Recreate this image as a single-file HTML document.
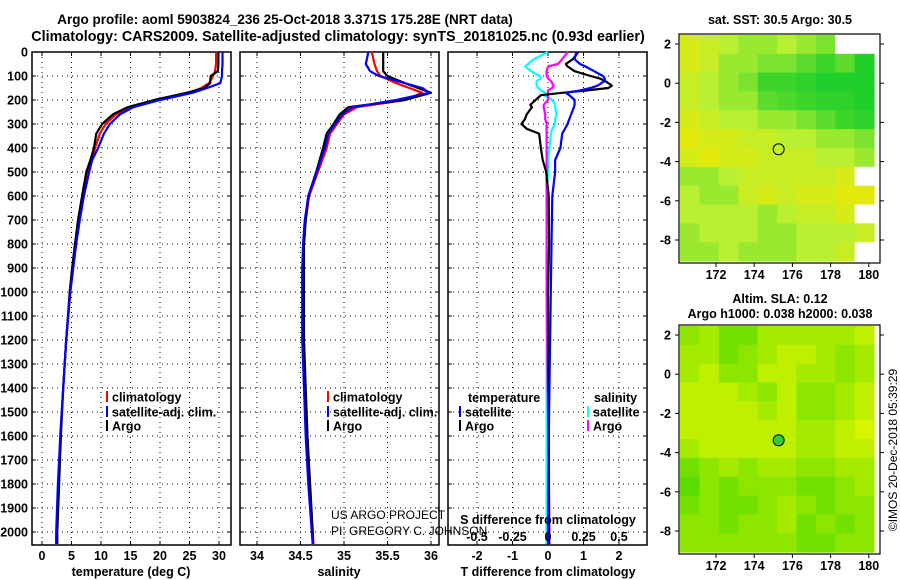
<!DOCTYPE html>
<html><head><meta charset="utf-8"><style>
html,body{margin:0;padding:0;background:#fff;}
svg{display:block;font-family:"Liberation Sans",sans-serif;}
.b{font-weight:bold;font-size:12.5px;}
.n{font-weight:normal;font-size:12px;}
</style></head><body>
<svg id="fig" width="900" height="580" viewBox="0 0 900 580"></svg>
<script>
// ---------- data ----------
const tDepth=[0,50,80,100,130,150,170,200,230,260,300,340,400,450,500,600,700,800,900,1000,1200,1400,1600,1800,2000,2050];
const tClim=[29.5,29.5,29.3,29.0,28.3,27.0,25.0,19.5,15.0,12.5,10.8,9.8,9.0,8.3,7.8,7.0,6.3,5.7,5.2,4.8,4.1,3.6,3.1,2.8,2.5,2.4];
const tSat =[30.6,30.6,30.5,30.5,30.2,28.0,25.5,20.0,15.5,13.2,11.5,10.5,9.5,8.5,8.0,7.1,6.4,5.8,5.3,4.8,4.1,3.6,3.1,2.7,2.4,2.4];
const tArgo=[29.9,29.9,29.8,28.6,28.5,27.5,24.5,19.0,14.5,12.0,10.2,9.2,8.8,8.2,7.5,6.8,6.1,5.6,5.1,4.7,4.1,3.6,3.2,2.9,2.6,2.6];
const sClim=[35.32,35.35,35.38,35.42,35.6,35.75,35.9,35.7,35.15,35.0,34.92,34.84,34.8,34.75,34.7,34.6,34.56,34.54,34.53,34.53,34.53,34.55,34.57,34.6,34.64,34.65];
const sSat =[35.28,35.25,35.30,35.40,35.7,35.9,35.98,35.6,35.1,34.98,34.9,34.82,34.78,34.73,34.69,34.59,34.55,34.53,34.52,34.52,34.52,34.54,34.56,34.59,34.63,34.64];
const sArgo=[35.45,35.45,35.45,35.50,35.7,35.85,36.0,35.7,35.05,34.95,34.88,34.8,34.76,34.72,34.68,34.59,34.56,34.54,34.54,34.54,34.54,34.56,34.58,34.61,34.64,34.64];
const dDepth=[0,30,50,60,80,100,110,120,140,150,160,170,180,200,220,230,260,280,300,320,340,400,450,500,600,800,1000,1500,2000,2050];
const dTsat =[0.8,0.75,0.9,1.05,1.3,1.55,1.6,1.6,1.4,1.2,0.9,0.5,0.6,0.75,0.75,0.73,0.65,0.6,0.55,0.48,0.4,0.35,0.2,0.2,0.12,0.1,0.08,0.03,0.0,0.0];
const dTargo=[0.85,0.7,0.5,0.55,0.75,1.2,1.45,1.6,1.8,1.7,1.1,0.4,-0.2,-0.35,-0.5,-0.45,-0.6,-0.65,-0.75,-0.6,-0.25,-0.2,-0.15,-0.05,0.02,0.03,0.0,0.02,0.03,0.03];
const dSsat =[0.0,-0.1,-0.14,-0.16,-0.12,-0.06,-0.05,-0.08,-0.08,-0.07,-0.05,-0.02,-0.03,0.03,0.05,0.05,0.06,0.05,0.05,0.03,0.02,0.01,0.0,0.0,-0.01,-0.01,-0.01,-0.01,-0.01,-0.01];
const dSargo=[0.14,0.1,0.07,0.0,-0.01,-0.01,0.0,0.02,0.04,0.03,0.0,0.0,0.0,0.0,-0.03,-0.03,-0.02,-0.02,-0.01,-0.01,-0.01,-0.01,-0.01,-0.01,-0.01,-0.01,-0.01,0.0,0.01,0.01];
const depthTicks=[0,100,200,300,400,500,600,700,800,900,1000,1100,1200,1300,1400,1500,1600,1700,1800,1900,2000];
const tTicks=[0,5,10,15,20,25,30];
const sTicks=[34,34.5,35,35.5,36];
const dtTicks=[-2,-1,0,1,2];
const dsTicks=[-0.5,-0.25,0,0.25,0.5];
const latTicks=[2,0,-2,-4,-6,-8];
const lonTicks=[172,174,176,178,180];
const sstGrid=[
[0.2,0.3,0.4,0.5,0.5,0.4,0.5,0.6,-1,-1],
[0.2,0.3,0.5,0.5,0.6,0.6,0.7,0.8,0.7,0.9],
[0.3,0.4,0.5,0.6,0.8,0.8,0.85,0.9,0.9,0.9],
[0.3,0.4,0.5,0.5,0.7,0.75,0.8,0.85,0.85,0.9],
[0.2,0.3,0.4,0.4,0.5,0.5,0.6,0.7,0.8,0.85],
[0.1,0.2,0.2,0.3,0.3,0.4,0.4,0.5,0.5,0.6],
[0.2,0.1,0.2,0.2,0.3,0.3,0.3,0.4,0.4,0.5],
[0.5,0.5,0.4,0.3,0.3,0.3,0.3,0.3,0.2,-1],
[0.4,0.5,0.5,0.3,0.2,0.3,0.2,0.2,0.1,0.1],
[0.4,0.4,0.4,0.4,0.5,0.4,0.3,0.3,0.2,-1],
[0.5,0.4,0.4,0.4,0.5,0.5,0.4,0.4,0.4,0.3],
[0.5,0.5,0.4,0.5,0.5,0.5,0.4,0.4,0.3,-1]];
const slaGrid=[
[.5,.4,.6,.6,.4,.4,.4,.4,.4,.3],
[.4,.4,.6,.5,.4,.3,.3,.4,.5,.4],
[.4,.3,.5,.5,.3,.3,.4,.4,.5,.4],
[.3,.3,.3,.4,.5,.3,.5,.5,.4,.3],
[.3,.3,.3,.3,.4,.3,.5,.5,.4,.3],
[.3,.3,.3,.3,.3,.3,.4,.4,.3,.2],
[.4,.3,.3,.3,.3,.3,.4,.4,.3,.3],
[.6,.5,.4,.5,.4,.4,.5,.5,.4,.4],
[.7,.5,.6,.5,.5,.5,.6,.6,.5,.4],
[.6,.5,.6,.6,.5,.4,.5,.6,.5,.5],
[.5,.5,.6,.5,.5,.4,.6,.5,.6,.5],
[.5,.5,.5,.5,.5,.5,.6,.6,.5,.5]];
const floatLon=175.28, floatLat=-3.371;

// ---------- helpers ----------
const svg=document.getElementById('fig');
const NS='http://www.w3.org/2000/svg';
function el(tag,attrs,parent){const e=document.createElementNS(NS,tag);for(const k in attrs)e.setAttribute(k,attrs[k]);(parent||svg).appendChild(e);return e;}
function txt(x,y,s,anchor,cls,parent){const t=el('text',{x:x,y:y,'text-anchor':anchor||'start','class':cls||'b'},parent);t.textContent=s;return t;}
const PT=52,PB=545;
const yD=d=>PT+d*0.24;

function panel(x0,x1,name,xfun,ticks,fmt,labelY){
  const g=el('g',{});
  
  
  ticks.forEach(v=>{const x=xfun(v);el('line',{x1:x,x2:x,y1:PT,y2:PB,stroke:'#000','stroke-width':1,'stroke-dasharray':'1,4'},g);
    el('line',{x1:x,x2:x,y1:PB,y2:PB-4,stroke:'#000'},g);el('line',{x1:x,x2:x,y1:PT,y2:PT+4,stroke:'#000'},g);
    const t=txt(x,labelY,fmt(v),'middle','b',g);});
  depthTicks.forEach(d=>{const y=yD(d);el('line',{x1:x0,x2:x1,y1:y,y2:y,stroke:'#000','stroke-dasharray':'1,4'},g);
    el('line',{x1:x0,x2:x0+4,y1:y,y2:y,stroke:'#000'},g);el('line',{x1:x1-4,x2:x1,y1:y,y2:y,stroke:'#000'},g);});
  el('rect',{x:x0,y:PT,width:x1-x0,height:PB-PT,fill:'none',stroke:'#000','stroke-width':1.5},g);
  return g;
}
function series(xs,ds,xfun,color,name,parent){
  const pts=xs.map((v,i)=>xfun(v).toFixed(1)+','+yD(ds[i]).toFixed(1)).join(' ');
  const p=el('polyline',{points:pts,fill:'none',stroke:color,'stroke-width':2.2,'stroke-linejoin':'round'},parent);
  
  
}
function legend(x,y,color,label,parent){
  el('rect',{x:x,y:y-6,width:2,height:11,fill:color},parent);
  const t=txt(x+6,y+4.5,label,'start','b',parent);
  
  
}

// titles
let t1=txt(285,24,'Argo profile: aoml 5903824_236 25-Oct-2018 3.371S 175.28E (NRT data)','middle');

t1.setAttribute('style','font-size:13.5px');
let t2=txt(338,41,'Climatology: CARS2009. Satellite-adjusted climatology: synTS_20181025.nc (0.93d earlier)','middle');

t2.setAttribute('style','font-size:14.3px');

depthTicks.forEach(d=>{const t=txt(28,yD(d)+4.5,String(d),'end');
  });

// panel 1 temperature
const xT=v=>42+v*5.9;
const g1=panel(32,231,'temperature-panel',xT,tTicks,v=>String(v),560);
series(tClim,tDepth,xT,'#f00','climatology-temp-line',g1);
series(tArgo,tDepth,xT,'#000','argo-temp-line',g1);
series(tSat,tDepth,xT,'#00f','satellite-temp-line',g1);
legend(106,397,'#f00','climatology',g1);legend(106,412,'#00f','satellite-adj. clim.',g1);legend(106,426,'#000','Argo',g1);
let xl=txt(131,576,'temperature (deg C)','middle','b',g1);

// panel 2 salinity
const xS=v=>257+(v-34)*87;
const g2=panel(240,439,'salinity-panel',xS,sTicks,v=>String(v),560);
series(sClim,tDepth,xS,'#f00','climatology-salinity-line',g2);
series(sArgo,tDepth,xS,'#000','argo-salinity-line',g2);
series(sSat,tDepth,xS,'#00f','satellite-salinity-line',g2);
legend(327,397,'#f00','climatology',g2);legend(327,412,'#00f','satellite-adj. clim.',g2);legend(327,426,'#000','Argo',g2);
xl=txt(339,576,'salinity','middle','b',g2);

// panel 3 differences
const xDT=v=>548+v*35.5;
const xDS=v=>548+v*142;
const g3=panel(448,647,'difference-panel',xDT,dtTicks,v=>String(v),560);
series(dSsat,dDepth,xDS,'#0ff','salinity-satellite-diff-line',g3);
series(dSargo,dDepth,xDS,'#f0f','salinity-argo-diff-line',g3);
series(dTargo,dDepth,xDT,'#000','temperature-argo-diff-line',g3);
series(dTsat,dDepth,xDT,'#00f','temperature-satellite-diff-line',g3);
txt(468,402,'temperature','start','b',g3);
txt(594,402,'salinity','start','b',g3);
legend(459,412,'#00f','satellite',g3);legend(459,426,'#000','Argo',g3);
legend(587,412,'#0ff','satellite',g3);legend(587,426,'#f0f','Argo',g3);
dsTicks.forEach(v=>{const t=txt(xDS(v),541,String(v),'middle','b',g3);});
xl=txt(548,524,'S difference from climatology','middle','b',g3);
xl=txt(548,576,'T difference from climatology','middle','b',g3);
let c1=txt(331,519,'US ARGO PROJECT','start','n');
let c2=txt(331,535,'PI: GREGORY C. JOHNSON','start','n');

// ---------- maps ----------
function rampSST(v){const a=[240,232,0],b=[185,240,50],c=[0,200,40];let p,q,f;
  if(v<0.4){p=a;q=b;f=v/0.4;}else{p=b;q=c;f=(v-0.4)/0.6;}
  return 'rgb('+p.map((x,i)=>Math.round(x+(q[i]-x)*f)).join(',')+')';}
function rampSLA(v){const a=[215,245,0],c=[90,220,0];const f=Math.max(0,Math.min(1,(v-0.2)/0.5));
  return 'rgb('+a.map((x,i)=>Math.round(x+(c[i]-x)*f)).join(',')+')';}
function map(top,grid,ramp,name){
  const g=el('g',{});
  
  
  const L=679,R=880,T=top,B=top+229;
  const xL=lon=>716+(lon-172)*19.1, yL=lat=>T+10+(2-lat)*19.6;
  const nr=grid.length,nc=grid[0].length;
  const x0=L+1,x1=874,y0=T+1,y1=B-2;
  const cw=(x1-x0)/nc,ch=(y1-y0)/nr;
  grid.forEach((row,r)=>row.forEach((v,c)=>{
    const cell=el('rect',{x:(x0+c*cw).toFixed(1),y:(y0+r*ch).toFixed(1),width:(cw+0.6).toFixed(1),height:(ch+0.6).toFixed(1),fill:v<0?'#fff':ramp(v)},g);
    
    
  }));
  el('rect',{x:L,y:T,width:R-L,height:B-T,fill:'none',stroke:'#000','stroke-width':1.2},g);
  latTicks.forEach(lat=>{const y=yL(lat);el('line',{x1:L,x2:L-4,y1:y,y2:y,stroke:'#000'},g);el('line',{x1:R,x2:R+4,y1:y,y2:y,stroke:'#000'},g);
    const t=txt(L-8,y+4.5,String(lat),'end','b',g);});
  lonTicks.forEach(lon=>{const x=xL(lon);el('line',{x1:x,x2:x,y1:B,y2:B+4,stroke:'#000'},g);
    const t=txt(x,B+16,String(lon),'middle','b',g);});
  const m=el('circle',{cx:xL(floatLon),cy:yL(floatLat),r:5.5,fill:name==='sla-map'?'#3c3':'none',stroke:'#000','stroke-width':1},g);
  
  
}
map(34,sstGrid,rampSST,'sst-map');
map(325,slaGrid,rampSLA,'sla-map');
let m1=txt(780,24,'sat. SST: 30.5 Argo: 30.5','middle');
let m2=txt(780,303,'Altim. SLA: 0.12','middle');
let m3=txt(780,318,'Argo h1000: 0.038 h2000: 0.038','middle');
let cr=txt(0,0,'©IMOS 20-Dec-2018 05:39:29','middle','n');
cr.setAttribute('transform','translate(897,450) rotate(-90)');

</script>
</body></html>
